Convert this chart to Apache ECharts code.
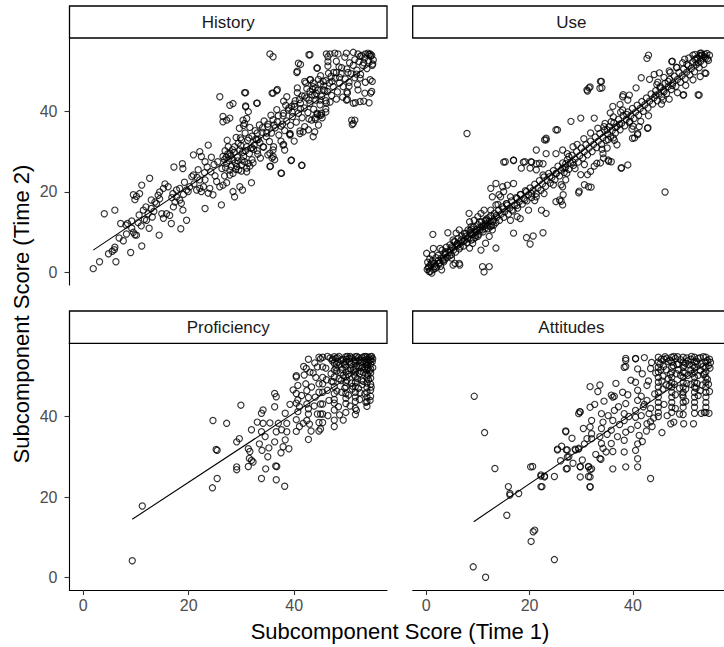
<!DOCTYPE html>
<html>
<head>
<meta charset="utf-8">
<script src="https://cdn.jsdelivr.net/npm/echarts@6/dist/echarts.min.js"></script>
<style>html,body{margin:0;padding:0;background:#fff;}#chart{width:724px;height:647px;}</style>
</head>
<body>
<div id="chart"></div>
<script>
// Panel names (facet strips)
const panelNames = ['History', 'Use', 'Proficiency', 'Attitudes'];
const xTitle = 'Subcomponent Score (Time 1)';
const yTitle = 'Subcomponent Score (Time 2)';
const tickValues = [0, 20, 40];

// History: [Time 1, Time 2]
const historyPts = [
[1.9,1.0],[3.1,2.7],[4.0,14.6],[4.8,4.7],[5.5,5.3],[5.9,5.7],[6.0,6.3],[6.0,15.5],[6.2,2.7],[7.1,12.2],[7.6,7.9],[8.1,11.8],[8.4,12.2],[9.0,5.0],[9.2,11.0],[9.5,10.0],[9.8,9.4],[10.1,9.3],[9.2,12.8],[9.5,19.3],[9.8,18.1],[10.1,18.9],[10.7,19.6],[11.1,6.6],[11.1,21.7],[12.6,23.4],[11.4,15.5],[11.9,16.3],[12.0,13.0],[12.3,14.6],[12.9,15.9],[13.6,17.5],[13.9,17.1],[14.5,18.3],[14.9,14.6],[15.2,13.5],[15.8,14.6],[16.4,14.2],[16.7,12.2],[14.4,9.3],[12.9,18.0],[14.2,19.2],[14.5,20.0],[15.2,20.9],[15.5,22.0],[16.1,21.3],[17.1,16.3],[17.4,17.5],[17.7,18.8],[18.3,18.0],[18.6,17.2],[18.9,15.5],[19.6,13.0],[18.5,10.9],[17.2,26.2],[18.8,27.0],[18.9,25.8],[17.7,20.5],[18.3,20.9],[19.6,20.5],[19.9,20.1],[20.2,21.3],[20.6,23.8],[20.9,24.2],[21.5,20.5],[22.1,20.9],[22.4,20.1],[22.8,21.3],[20.9,29.2],[22.1,30.0],[22.4,28.8],[23.1,27.5],[23.7,31.6],[22.1,23.0],[23.1,23.0],[23.7,19.7],[24.0,20.9],[24.6,19.3],[25.3,22.6],[25.9,21.3],[26.2,16.8],[26.5,21.7],[27.2,22.3],[25.9,43.6],[26.5,38.7],[26.5,37.4],[27.2,37.8],[27.8,38.3],[27.8,41.5],[28.4,41.9],[23.1,15.9],
[6.8,8.6],[8.2,9.6],[10.4,12.4],[11.0,11.6],[11.6,13.2],[13.1,13.8],[13.4,15.2],[12.5,11.0],[10.6,14.3],[16.8,18.6],[17.0,19.6],[19.2,22.4],[19.0,19.4],[21.0,22.0],[21.6,23.6],[23.0,24.8],[23.5,26.2],[24.2,25.0],[24.8,26.8],[25.0,24.0],[25.5,27.5],[24.3,28.6],[21.8,25.5],
[26.5,28.8],[27.2,27.1],[27.8,29.6],[28.4,28.0],[29.1,26.3],[29.7,30.4],[30.4,28.8],[31.0,31.2],[31.3,27.1],[27.8,25.4],[28.4,24.6],[29.4,32.1],[30.0,32.9],[30.7,34.6],[28.7,31.2],[27.5,31.2],[26.8,28.0],[28.1,26.3],[30.0,26.7],[31.0,25.0],[28.4,20.1],[28.7,18.8],[29.7,21.3],[30.8,44.6],[30.8,41.3],[31.3,39.9],
[27.0,26.0],[27.6,27.8],[28.0,29.0],[28.8,27.2],[29.2,28.6],[29.5,25.5],[30.2,29.8],[30.6,27.5],[31.5,29.5],[32.0,28.0],[26.9,30.2],[28.3,30.5],[29.0,33.5],[27.3,32.8],[26.3,25.8],[27.8,24.2],[29.9,31.5],[31.8,30.8],[32.4,31.6],[33.0,30.2],[31.2,32.8],[32.0,33.8],[33.2,33.0],[29.6,35.8],[30.4,36.5],[31.6,36.0],
[30.6,44.6],[30.8,41.1],[32.9,42.0],[30.3,37.8],[30.6,37.0],[31.0,38.2],[30.2,20.5],[31.9,22.3],[31.0,25.9],[32.9,32.9],[34.1,31.2],[35.4,29.6],[36.0,28.8],[36.3,28.0],[35.4,26.3],[37.6,24.6],[37.9,31.6],[38.2,30.4],[39.5,27.9],[41.4,26.6],[39.2,34.5],[39.2,34.1],[41.1,34.5],[41.7,34.9],[42.7,35.4],[43.6,33.7],[43.9,34.9],[43.3,37.8],[44.3,39.5],[44.9,39.1],[45.2,39.5],[44.6,36.6],[43.6,46.1],[43.9,44.0],[45.5,45.3],[44.9,42.8],[46.1,42.0],[36.0,44.5],[36.7,45.1],[35.4,54.2],[36.0,53.5],[43.0,54.0],[40.8,51.9],[40.5,49.6],[42.0,47.4],[43.0,47.8],[44.3,50.7],[46.4,52.3],
[46.1,54.2],[46.4,53.5],[46.8,54.2],[47.7,54.4],[48.3,54.2],[49.9,54.4],[51.2,54.6],[52.1,54.2],[52.8,53.8],[54.0,54.4],[54.4,54.2],[54.7,53.8],[55.0,52.7],[54.9,51.7],
[49.9,42.8],[51.2,42.0],[52.5,42.4],[53.4,44.5],[54.7,44.9],[54.4,47.8],[52.5,48.2],[52.1,45.3],[50.9,37.8],[51.2,37.0],[51.5,37.8],[51.0,36.7],
[37.5,24.7],[41.5,26.6],[39.4,27.8],[35.8,28.4],[35.5,26.4],[33.0,42.0],[35.8,44.5],[36.8,45.4],[38.0,42.5],[40.6,49.9],[41.2,51.6],[42.8,54.0],[44.4,50.7],[43.1,47.8],[42.2,47.0],[40.6,45.8],
[54.8,47.4],[54.5,44.5],[54.2,42.1],[53.2,42.5],[51.6,42.1],[50.1,42.9],[50.1,44.5],[50.4,46.2],[44.4,39.2],[45.3,38.4],[46.0,39.8],[44.0,38.0],
[32.3,30.6],[32.7,33.1],[33.1,29.4],[33.5,32.2],[33.9,34.8],[34.2,31.1],[34.7,33.7],[35.0,36.2],[35.3,32.5],[35.7,34.6],[36.1,31.2],[36.4,35.9],[36.8,37.4],[37.1,34.1],[37.5,36.3],[37.9,38.9],[38.2,35.2],[38.6,37.6],[38.9,40.3],[39.3,36.5],[39.7,38.7],[40.1,41.2],[40.4,37.3],[40.8,39.5],[41.2,42.0],[41.5,38.4],[41.9,40.8],[42.3,43.3],[42.6,39.7],[43.0,41.9],[43.4,44.1],[43.7,40.5],[44.1,42.8],[44.5,45.2],[44.9,41.6],[45.2,43.7],[45.6,46.3],[46.0,42.6],[46.3,44.9],[46.7,47.0],[47.1,43.9],[47.4,46.1],[47.8,48.2],[48.2,44.8],[48.6,47.0],[48.9,49.3],[49.3,46.1],[49.7,48.0],[50.0,50.5],[50.4,47.2],[50.8,49.3],[51.2,51.4],[51.5,48.3],[51.9,50.2],[52.3,52.3],[52.6,49.1],[53.0,51.4],[53.4,53.2],[53.8,50.6],[54.1,52.5],[54.5,53.6],[54.8,51.4],
[33.0,34.6],[34.0,35.9],[35.0,36.8],[36.0,37.9],[37.0,38.9],[38.0,39.5],[39.0,40.8],[39.5,41.2],[40.0,41.8],[41.0,42.9],[41.5,43.8],[42.0,43.8],[43.0,44.9],[43.5,45.4],[44.0,45.8],[45.0,46.8],[45.5,47.4],[46.0,47.6],[46.5,49.4],[47.0,48.6],[47.5,49.6],[48.0,49.6],[48.5,51.0],[49.0,50.8],[50.5,52.0],[51.5,52.8],[52.5,53.6],[53.5,54.2],
[44.6,47.9],[42.4,45.6],[40.6,44.6],[38.4,41.5],[36.7,40.4],[34.3,37.6],[37.5,32.6],[39.2,34.3],[41.1,35.1],[42.8,38.1],[45.1,39.0],[46.8,42.3],[49.2,43.5],[44.0,38.4],[42.0,36.2],[40.0,32.6],[38.0,31.8],[36.0,30.4],[46.0,40.6],[48.0,43.0],[50.0,44.8],[52.0,46.6],[53.5,47.2],[35.0,29.2],[33.6,28.4],[32.2,27.2],
[27.4,29.4],[28.6,29.8],[29.3,27.7],[30.1,27.9],[28.9,25.6],[27.1,28.6],[30.8,30.2],[29.8,33.4],[31.4,33.4],[32.6,35.2],[34.8,34.6],[36.2,36.6],[37.8,36.8],[39.6,39.8],[41.2,40.6],[42.8,42.8],[44.2,44.4],[45.8,45.2],[47.2,47.4],[48.6,48.4],[50.2,49.6],[51.8,49.2],[53.2,52.0],[54.2,54.0],[46.4,51.2],[45.0,48.8],[43.6,47.0],[48.0,52.4],[49.6,53.4],[38.6,43.6],[40.2,42.6],[35.6,39.0],[33.4,36.6],[32.0,31.0],[30.0,25.2],[31.6,26.4],[26.8,24.0]
];

// Use
const usePts = [
[7.9,34.5],[1.3,9.5],[4.2,9.9],[0.1,4.8],[1.4,6.0],[2.7,6.0],[5.2,8.1],[5.8,9.8],[6.4,10.6],[8.3,14.7],[5.2,1.9],[6.4,2.3],[11.2,0.2],[10.9,1.5],[12.2,1.5],[0.5,1.5],[0.8,0.3],[1.1,-0.1],[1.8,1.1],[2.4,2.3],[3.0,0.7],[3.3,3.6],[3.7,4.8],[4.6,5.6],[4.9,6.4],[5.6,7.7],[6.2,6.9],[6.8,8.1],[5.6,2.3],[6.5,1.9],[4.9,3.6],[7.4,9.8],[8.1,10.6],[8.4,12.6],[8.7,11.4],[9.3,13.0],[10.0,13.9],[10.6,14.7],[11.2,15.5],[11.5,13.0],[10.9,10.6],[10.0,9.0],[9.0,7.3],[8.4,6.1],[10.6,5.6],[11.5,7.3],[12.2,9.0],[12.8,10.6],[13.1,11.8],[13.5,6.1],[12.5,15.5],[13.5,16.8],[14.4,18.8],[15.0,27.4],[16.9,27.8],[18.8,27.4],[20.4,27.4],[21.3,27.0],[22.6,27.0],[22.9,32.9],[23.2,33.3],[25.1,35.4],[16.3,13.0],[16.9,9.8],[16.6,15.5],[17.6,13.9],[18.2,13.4],[17.6,16.7],[15.7,16.7],[19.4,8.7],[20.1,7.1],[20.7,9.1],[22.6,9.9],[12.5,20.9],[13.5,22.1],[14.8,21.3],[15.7,21.7],[16.9,22.1],[15.0,20.1],[14.1,19.3],[12.8,18.8],[16.3,18.8],[17.6,18.4],[18.2,19.3],[19.4,20.1],[20.4,19.6],[19.1,18.0],[19.8,15.5],[21.3,18.8],[22.3,15.5],[23.2,14.7],[25.1,17.6],[25.8,18.0],[26.4,16.8],[27.0,23.0],[26.4,21.3],[20.1,25.9],[21.3,25.5],[22.6,24.2],[23.9,23.8],[25.1,24.6],[26.4,25.9],[27.0,27.0],[27.3,29.5],[26.4,30.4],[25.1,29.5],[23.2,29.5],
[42.7,53.1],[43.0,53.9],[47.5,52.3],[50.0,52.9],[51.6,53.9],[52.2,53.1],[53.2,53.9],[53.8,53.5],[54.1,49.4],[52.8,44.0],[49.7,44.0],[46.2,20.0],[31.1,45.3],[31.7,46.0],[33.6,45.7],[33.9,47.4],[25.4,35.4],[23.2,32.9],[21.3,30.4],[15.3,27.5],[16.9,27.9],[18.4,25.9],[19.1,27.5],[20.3,27.5],[21.9,27.1],[29.5,19.8],[31.4,21.3],[31.9,21.2],[37.7,25.9],[39.0,26.7],[35.2,27.9],[35.8,27.5],[34.2,29.5],[33.0,27.1],[39.9,33.3],[40.9,34.5],[41.2,36.2],[42.8,35.8],[36.1,41.2],[38.0,40.3],[39.0,42.8],[38.0,43.6],[39.3,44.0],
[47.6,52.4],[33.7,47.4],[34.0,45.8],[31.5,45.8],[31.2,45.0],[38.1,44.1],[40.6,45.8],[41.6,48.3],[43.2,47.9],[44.1,49.1],[45.1,49.5],[47.0,50.0],[48.5,50.8],[50.4,51.6],[52.0,52.8],[52.9,53.7],[53.9,54.1],[53.9,49.5],[49.8,44.1],[52.6,44.1],[37.8,26.0],[35.6,39.6],[37.5,41.7],[38.8,39.2],[39.4,37.5],[40.0,36.3],[40.3,33.4],[40.9,34.2],[42.9,35.9],[32.5,38.3],[29.9,38.3],[28.0,37.5],[36.2,33.4],[36.9,31.7],[35.0,30.9],[34.3,28.4],[35.3,27.6],[33.7,27.2],[32.5,26.4],[31.8,25.1],[30.6,26.8],[29.9,24.3],[31.2,24.3],[30.6,21.8],[29.6,20.2],[26.1,17.7],[26.5,19.3],[26.1,21.8],
[0.2,0.8],[0.3,2.6],[0.6,0.3],[0.7,3.4],[0.9,1.9],[1.2,2.9],[1.4,0.8],[1.6,2.2],[1.9,3.7],[2.0,1.4],[2.3,4.3],[2.6,2.4],[2.9,3.6],[3.1,5.6],[3.4,2.7],[3.6,4.5],[3.9,6.3],[4.1,3.8],[4.4,5.1],[4.6,6.9],[4.9,4.4],[5.1,6.1],[5.4,7.7],[5.7,5.1],[5.9,6.7],[6.2,8.5],[6.4,5.9],[6.7,7.4],[6.9,9.1],[7.2,6.6],[7.4,8.1],[7.7,9.7],[7.9,7.4],[8.2,8.8],[8.5,10.5],[8.7,8.1],[9.0,9.5],[9.2,11.3],[9.5,8.7],[9.7,10.2],[10.0,11.9],[10.2,9.5],[10.5,11.1],[10.7,12.6],[11.0,10.1],[11.2,11.5],[11.5,12.1],[11.7,13.3],[12.0,10.9],[12.2,12.7],[12.5,14.1],[12.7,11.7],[13.0,13.1],[13.2,14.7],[13.5,12.4],[13.7,13.8],[14.0,15.5],[14.2,13.0],[14.5,14.5],[14.7,16.3],[15.0,13.7],[15.2,15.1],[15.5,17.1],
[0.4,1.2],[1.0,2.4],[1.7,1.6],[2.4,3.1],[3.2,3.0],[3.8,5.2],[4.5,4.2],[5.3,5.6],[6.0,7.2],[6.6,6.4],[7.3,7.8],[8.0,8.4],[8.6,9.8],[9.4,10.0],[9.9,10.8],[10.8,11.6],[11.4,11.0],[12.1,13.6],[12.9,12.6],[13.6,14.2],[10.3,12.6],[11.8,11.8],[9.1,8.3],[7.6,9.0],[13.9,16.9],[14.9,15.8],
[15.6,17.1],[15.9,14.5],[16.2,16.0],[16.5,17.8],[16.8,15.3],[17.1,16.8],[17.4,18.6],[17.7,16.0],[18.0,17.6],[18.3,19.4],[18.6,17.0],[18.9,18.4],[19.2,20.3],[19.5,17.8],[19.8,19.3],[20.1,21.0],[20.4,18.6],[20.7,20.4],[21.0,21.9],[21.3,19.6],[21.6,21.0],[21.9,22.8],[22.2,20.4],[22.5,22.0],[22.8,23.7],[23.1,21.4],[23.4,22.9],[23.7,24.6],[24.0,22.2],[24.3,23.6],[24.6,25.3],[24.9,23.0],[25.2,24.6],[25.5,26.4],[25.8,24.0],[26.1,25.4],[26.4,27.2],[26.7,24.8],[27.0,26.2],[27.3,28.0],[27.6,25.6],[27.9,27.2],[28.2,29.1],[28.5,26.6],[28.8,28.2],[29.1,30.0],[29.4,27.4],[29.7,29.0],[30.0,30.9],[30.3,28.4],[30.6,30.0],[30.9,31.7],[31.2,29.2],[31.5,30.9],[31.8,32.6],[32.1,30.0],[32.4,31.8],[32.7,33.6],[33.0,31.0],[33.3,32.6],[33.6,34.5],[33.9,31.8],[34.2,33.5],[34.5,35.3],[34.8,32.8],[35.1,34.4],[35.4,36.2],[35.7,33.6],[36.0,35.3],[36.3,37.1],[36.6,34.6],[36.9,36.2],[37.2,38.0],[37.5,35.4],[37.8,37.0],[38.1,38.9],[38.4,36.4],[38.7,38.0],[39.0,39.8],[39.3,37.2],[39.6,38.9],[39.9,40.7],[40.2,38.2],[40.5,39.8],[40.8,41.5],[41.1,39.0],[41.4,40.7],[41.7,42.4],[42.0,40.0],[42.3,41.6],[42.6,43.3],[42.9,40.8],[43.2,42.5],[43.5,44.3],[43.8,41.8],[44.1,43.4],[44.4,45.1],[44.7,42.6],[45.0,44.3],[45.3,46.1],[45.6,43.6],[45.9,45.2],[46.2,46.9],[46.5,44.4],[46.8,46.1],[47.1,47.9],[47.4,45.4],[47.7,47.0],[48.0,48.7],[48.3,46.2],[48.6,47.9],[48.9,49.6],[49.2,47.2],[49.5,48.8],[49.8,50.5],[50.1,48.0],[50.4,49.7],[50.7,51.3],[51.0,49.0],[51.3,50.6],[51.6,52.3],[51.9,49.8],[52.2,51.5],[52.5,53.1],[52.8,50.8],[53.1,52.4],[53.4,53.9],[53.7,51.6],[54.0,53.2],[54.3,54.3],[54.6,52.6],[54.8,53.9],
[28.4,31.2],[29.2,31.8],[30.5,33.2],[31.8,34.6],[33.2,35.8],[34.6,37.0],[36.2,38.6],[37.6,39.8],[44.8,47.2],[46.0,48.4],[47.2,49.6],[48.4,50.9],[49.6,52.0],[50.8,53.2],[52.0,54.1],[53.0,54.4],[45.5,41.8],[47.0,43.0],[48.6,44.6],[50.2,46.4],[51.6,47.8],[53.0,48.6],[43.0,38.9],[41.5,37.5],[39.8,35.6],[36.4,32.8],[34.0,30.6],[28.8,25.8],[27.2,24.6],[24.6,21.8],[22.8,19.6],[21.0,17.9],
[34.4,36.2],[35.0,35.4],[35.8,37.4],[36.6,36.0],[37.4,36.8],[35.2,33.0],[44.4,44.0],[45.2,45.8],[46.0,44.8],[46.8,47.4],[47.6,46.4],[45.8,42.8],[44.6,46.6],[53.2,54.4],[54.4,53.0],[52.6,52.0],[27.6,28.8],[28.4,27.4],[26.8,26.0],[8.8,10.8],[9.6,9.2],[10.4,10.6],[11.6,12.8],[12.4,11.4],[2.8,1.6],[3.6,3.2],[1.2,4.4]
];

// Proficiency
const profPts = [
[9.3,4.2],[11.2,17.8],[24.6,39.0],[27.2,38.3],[29.9,42.8],[25.2,31.8],[25.4,31.6],[25.4,24.6],[24.5,22.3],[29.1,33.7],[29.6,34.5],[29.1,27.5],[29.1,26.8],[31.3,32.0],[31.5,29.6],[31.9,29.1],[32.2,28.7],[33.8,24.6],[36.5,27.7],[36.6,24.3],[38.2,22.7],[36.7,27.6],[31.6,31.3],[31.9,36.7],[31.3,27.6],[33.8,36.2],[34.1,38.3],[33.8,40.8],[34.1,41.6],[36.3,42.4],[36.6,44.9],[36.3,45.7],[36.3,33.7],[36.6,36.2],[38.3,40.8],[38.6,38.3],[38.6,36.2],[38.3,34.2],[37.9,32.5],[37.0,38.3],[37.6,36.7],
[40.4,50.1],[40.4,49.8],[40.7,47.7],[40.4,45.7],[40.7,44.1],[40.4,43.3],[41.0,42.4],[40.7,41.2],[40.4,39.2],[41.0,37.5],[40.4,36.3],[42.2,48.1],[42.4,46.4],[42.7,44.7],[42.4,43.1],[42.7,41.9],[42.7,40.6],[42.4,39.0],[42.9,38.1],[43.2,36.4],[42.7,34.3],[44.4,40.6],[45.0,40.6],[44.7,36.4],[45.0,36.9],[44.7,38.5],[45.0,43.1],[44.7,46.0],[44.7,48.1],[44.1,49.7],[44.4,52.3],[44.7,54.7],[45.0,54.3],[42.7,54.2],
[33.4,33.2],[33.9,31.6],[34.5,35.0],[35.2,32.2],[35.4,38.4],[33.0,38.6],[35.0,30.0],[34.6,27.0],[37.5,31.0],[39.0,32.0],[41.7,38.3],[49.3,39.1],
[45.4,54.7],[45.4,52.3],[45.4,49.7],[45.4,48.1],[45.4,46.0],[45.4,43.1],[45.4,40.6],[45.4,38.5],
[47.6,54.8],[47.6,53.2],[47.6,51.5],[47.6,49.8],[47.6,47.4],[47.6,45.7],[47.6,44.2],[47.6,43.3],[47.6,41.6],[47.6,39.1],[47.6,37.5],
[49.8,54.8],[49.8,53.6],[49.8,52.3],[49.8,51.0],[49.8,49.8],[49.8,48.5],[49.8,47.4],[49.8,45.7],[49.8,44.5],[49.8,43.2],[49.8,41.0],
[51.6,54.8],[51.6,54.0],[51.6,53.2],[51.6,52.0],[51.6,51.0],[51.6,49.8],[51.6,48.5],[51.6,47.4],[51.6,46.0],[51.6,44.8],[51.6,43.7],[51.6,42.0],[51.6,40.5],
[53.8,54.8],[53.8,54.2],[53.8,53.5],[53.8,52.5],[53.8,51.5],[53.8,50.5],[53.8,49.5],[53.8,48.3],[53.8,47.2],[53.8,46.0],[53.8,44.8],[53.8,43.7],[53.8,42.5],
[54.5,54.8],[54.5,54.0],[54.5,53.0],[54.5,51.8],[54.5,50.8],[54.5,49.5],[54.5,48.0],[54.5,46.5],[54.5,45.0],
[46.8,54.5],[47.2,53.8],[48.2,54.6],[48.6,52.8],[49.2,54.2],[50.4,54.4],[50.8,53.0],[51.2,51.6],[52.2,54.6],[52.6,53.4],[53.0,52.2],[53.2,54.8],[54.2,54.6],[54.8,53.6],[52.4,50.6],[50.2,50.4],[48.8,50.8],[47.0,50.6],[52.8,49.0],[54.0,52.0],[51.0,46.8],[49.0,46.0],[53.4,45.6],[46.6,44.0],[48.4,42.4],[50.6,42.6],[52.4,44.2],[54.4,44.0],[43.6,50.8],[41.8,52.4],[43.0,51.0],[46.0,52.0],[44.0,44.8],[41.4,45.2],[46.4,40.2],[48.6,40.4],[39.8,46.6],[39.2,43.0],[43.8,42.6],[53.6,43.5],[51.8,41.5],
[47.9,54.4],[48.9,53.9],[50.1,54.9],[50.9,54.5],[51.9,54.9],[52.9,54.6],[53.5,54.9],[54.7,54.9],[53.3,53.9],[52.1,53.7],[50.5,53.7],[49.5,52.9],[48.3,53.5],[54.1,53.3],[53.1,50.9],[52.3,52.5],[50.7,51.9],[49.1,51.7],[48.1,51.3],[54.9,52.1],[52.9,47.9],[50.9,48.3],[48.9,48.9],[47.1,48.7],[46.1,49.1],[54.1,49.1],[52.5,45.9],[50.3,45.3],[48.1,46.3],[46.3,46.5],[43.3,47.3],[41.9,50.3],[43.9,53.3],[46.3,54.9],[42.3,51.9],
[47.3,54.2],[48.0,53.0],[48.5,54.9],[49.4,53.3],[49.9,54.2],[50.6,54.9],[51.3,53.6],[51.8,52.6],[52.4,54.0],[53.0,53.6],[53.6,52.9],[54.2,53.9],[54.9,54.3],[54.3,51.3],[53.4,51.9],[52.6,51.2],[51.4,50.3],[50.3,51.4],[49.3,50.2],[48.5,49.4],[47.9,52.1],[50.0,49.0],[52.0,49.4],[54.0,50.2],[53.1,48.7],[51.1,47.5],[49.6,47.0],[54.6,47.3],[52.2,47.0],[47.4,48.6]
];

// Attitudes
const attPts = [
[9.1,2.7],[11.5,0.1],[9.3,45.0],[11.3,36.0],[13.3,27.1],[15.6,15.5],[15.9,22.6],[16.2,20.9],[16.2,20.5],[17.9,20.9],[20.2,27.5],[20.6,27.6],[20.3,9.0],[20.7,11.4],[21.0,11.8],[22.2,25.2],[22.9,25.0],[22.4,22.6],[22.9,25.2],[24.8,4.5],[25.4,31.9],[27.0,36.4],[27.1,31.7],[27.3,29.9],[27.1,27.0],[28.8,31.9],[29.5,31.9],[29.8,27.5],[29.8,25.0],[31.4,27.5],[31.7,25.0],[31.7,22.5],[32.0,27.0],[29.5,40.7],[29.8,41.1],[31.7,42.3],[32.0,39.0],[31.7,37.4],[32.0,35.7],[32.0,34.5],[31.1,34.5],[33.9,40.7],[34.2,38.6],[33.9,37.0],[33.6,35.0],[33.9,33.3],[33.6,29.6],[33.8,29.4],[34.2,32.1],[36.1,31.3],[35.8,33.3],[36.1,27.0],[35.8,36.6],[36.1,39.0],[36.4,41.5],[36.1,44.8],[38.0,46.0],[38.3,52.2],[38.6,53.9],[40.5,54.3],[40.9,51.8],[40.5,48.5],[40.9,46.5],[40.9,44.0],[40.5,41.5],[40.5,39.8],[40.9,37.8],[41.2,35.3],[40.9,33.2],[40.5,31.6],[40.9,29.5],[40.9,27.5],[43.4,24.6],[42.7,44.0],[43.1,40.7],[42.7,38.2],[42.7,47.7],[38.6,27.5],[38.3,31.2],[38.3,34.1],[38.6,36.1],[38.3,39.0],[38.3,40.7],[38.6,43.2],
[22.2,25.5],[22.2,22.6],[24.8,25.1],[27.3,27.1],[27.0,36.2],[25.4,31.7],[27.3,31.7],[28.9,31.7],[29.5,32.1],[27.6,30.0],[29.8,27.6],[31.4,27.6],[31.7,26.8],[31.4,25.1],[31.7,22.6],[29.7,41.2],[31.7,47.4],[33.6,47.8],[36.7,48.2],[38.6,54.4],[38.6,52.4],[40.5,54.4],[43.4,51.9],[35.8,45.3],[36.4,45.0],[43.4,38.7],[43.7,37.5],[45.6,36.0],[47.3,38.2],[47.9,38.6],[49.8,38.2],[51.7,38.2],[53.8,41.0],[54.7,40.8],
[44.9,54.7],[44.9,53.5],[44.9,52.2],[44.9,51.0],[44.9,49.7],[44.9,48.5],[44.9,47.3],[44.9,46.0],[44.9,44.8],[44.9,43.5],[44.9,42.3],[44.9,41.0],[44.9,40.0],
[47.5,54.7],[47.5,53.5],[47.5,52.2],[47.5,51.0],[47.5,49.7],[47.5,48.5],[47.5,47.3],[47.5,46.0],[47.5,44.8],[47.5,43.5],[47.5,42.3],[47.5,41.0],
[49.7,54.7],[49.7,53.5],[49.7,52.2],[49.7,51.0],[49.7,49.7],[49.7,48.5],[49.7,47.3],[49.7,46.0],[49.7,44.8],[49.7,43.5],[49.7,42.3],[49.7,40.5],
[51.9,54.7],[51.9,53.5],[51.9,52.2],[51.9,51.0],[51.9,49.7],[51.9,48.5],[51.9,47.3],[51.9,46.0],[51.9,44.8],[51.9,43.5],[51.9,42.3],[51.9,40.8],
[54.1,54.7],[54.1,53.5],[54.1,52.2],[54.1,51.0],[54.1,49.7],[54.1,48.5],[54.1,47.3],[54.1,46.0],[54.1,44.8],[54.1,43.5],[54.1,42.3],[54.1,41.0],
[45.5,54.2],[46.2,54.8],[46.8,53.6],[48.2,54.4],[48.8,53.0],[50.4,54.5],[50.9,52.8],[52.6,54.4],[53.2,53.0],[54.8,54.2],[54.6,52.6],[53.0,51.4],[50.6,50.2],[48.4,50.6],[46.4,51.6],[45.6,48.8],[47.0,47.6],[49.0,47.0],[51.2,48.0],[53.4,47.8],[54.8,46.2],[52.6,45.2],[50.2,43.8],[48.2,42.0],[46.0,43.0],[44.2,45.6],[44.4,50.8],[43.6,53.4],[42.2,54.6],[43.0,48.8],[46.6,40.2],[49.0,40.6],[53.2,40.8],[42.0,42.4],[41.6,45.0],[39.6,49.0],[39.0,45.4],[41.8,50.6],
[41.6,40.2],[42.2,43.0],[43.4,42.0],[44.0,39.6],[42.6,36.4],[41.8,33.8],[39.6,36.8],[39.2,40.0],[37.4,38.0],[37.0,35.0],[37.2,42.4],[35.2,40.2],[35.0,35.6],[34.8,31.2],[32.8,30.6],[30.6,33.2],[30.2,29.2],[28.4,28.4],[26.2,32.6],[26.0,29.0],[28.2,34.6],[30.4,37.0],[32.6,43.0],[34.4,43.8],[33.2,46.2],
[46.0,54.2],[48.6,54.8],[51.2,54.2],[53.6,54.8],[55.0,53.4],[52.4,53.0],[50.2,53.2],[47.8,52.6],[45.4,51.6],[53.6,50.4],[51.4,50.6],[49.2,50.2],[46.8,49.4],[54.6,48.0],[52.4,48.2],[50.2,46.8],[48.2,45.4],[45.8,46.8],
[45.2,53.0],[45.9,52.4],[46.5,54.4],[47.2,53.9],[47.9,54.9],[48.5,52.9],[49.2,54.1],[49.9,52.7],[50.6,53.8],[51.3,54.9],[51.6,52.6],[52.3,53.7],[53.0,54.6],[53.6,52.4],[54.4,53.9],[54.9,52.0],[53.8,50.6],[52.6,50.2],[51.2,51.6],[50.0,50.8],[48.8,51.6],[47.2,50.4],[45.8,50.0],[46.4,47.8],[48.0,48.0],[50.4,48.2],[52.2,47.0],[54.4,49.2],[53.0,46.4],[49.6,45.4]
];

// Regression lines (start and end points)
const historyLine = [[1.9,5.6],[54.8,51.8]];
const useLine = [[0.0,0.7],[54.6,53.9]];
const profLine = [[9.3,14.5],[54.8,53.6]];
const attLine = [[9.2,13.9],[54.8,53.6]];

const panelPts = [historyPts, usePts, profPts, attPts];
const panelLines = [historyLine, useLine, profLine, attLine];

const FONT = '"Liberation Sans", Arial, Helvetica, sans-serif';
const gridBoxes = [
  {left: 69.5, top: 38, width: 317.5, height: 247},
  {left: 412.7, top: 38, width: 317.5, height: 247},
  {left: 69.5, top: 343.3, width: 317.5, height: 246.7},
  {left: 412.7, top: 343.3, width: 317.5, height: 246.7}
];

const chart = echarts.init(document.getElementById('chart'), null, {renderer: 'svg'});

const xAxes = gridBoxes.map((g, i) => {
  const showAxis = i >= 2;
  return {
    type: 'value', gridIndex: i, min: -2.6, max: 57.6, show: showAxis,
    splitLine: {show: false},
    axisLine: {show: showAxis, onZero: false, lineStyle: {color: '#000', width: 1.1}},
    axisTick: {show: showAxis, customValues: tickValues, length: 5, lineStyle: {color: '#333', width: 1.1}},
    axisLabel: {show: showAxis, customValues: tickValues, margin: 7, color: '#4d4d4d', fontSize: 16, fontFamily: FONT}
  };
});
const yAxes = gridBoxes.map((g, i) => {
  const showAxis = (i % 2) === 0;
  return {
    type: 'value', gridIndex: i, min: -3.05, max: 58.15, show: showAxis,
    splitLine: {show: false},
    axisLine: {show: showAxis, onZero: false, lineStyle: {color: '#000', width: 1.1}},
    axisTick: {show: showAxis, customValues: tickValues, length: 5, lineStyle: {color: '#333', width: 1.1}},
    axisLabel: {show: showAxis, customValues: tickValues, margin: 12, color: '#4d4d4d', fontSize: 16, fontFamily: FONT}
  };
});

const series = [];
panelPts.forEach((pts, i) => {
  series.push({
    type: 'scatter', xAxisIndex: i, yAxisIndex: i, data: pts,
    symbol: 'circle', symbolSize: 6.2, silent: true, z: 2,
    itemStyle: {color: 'rgba(0,0,0,0)', borderColor: '#000', borderWidth: 1.15},
    emphasis: {disabled: true}
  });
  series.push({
    type: 'line', xAxisIndex: i, yAxisIndex: i, data: panelLines[i],
    symbol: 'none', silent: true, z: 3,
    lineStyle: {color: '#000', width: 1.1},
    emphasis: {disabled: true}
  });
});

const graphics = [];
gridBoxes.forEach((g, i) => {
  const stripTop = i < 2 ? 6 : 311;
  graphics.push({
    type: 'rect', z: 10,
    shape: {x: g.left, y: stripTop, width: g.width, height: g.top - stripTop},
    style: {fill: '#fff', stroke: '#000', lineWidth: 1.3}
  });
  graphics.push({
    type: 'text', z: 11,
    x: g.left + g.width / 2,
    y: stripTop + (g.top - stripTop) / 2 + 0.5,
    style: {text: panelNames[i], fill: '#1a1a1a', font: '17px ' + FONT, align: 'center', verticalAlign: 'middle'}
  });
});
graphics.push({
  type: 'text', z: 11, x: 400, y: 631,
  style: {text: xTitle, fill: '#000', font: '22px ' + FONT, align: 'center', verticalAlign: 'middle'}
});
graphics.push({
  type: 'text', z: 11, x: 21, y: 314, rotation: Math.PI / 2,
  style: {text: yTitle, fill: '#000', font: '22px ' + FONT, align: 'center', verticalAlign: 'middle'}
});

chart.setOption({
  animation: false,
  backgroundColor: '#fff',
  grid: gridBoxes,
  xAxis: xAxes,
  yAxis: yAxes,
  series: series,
  graphic: graphics
});
</script>
</body>
</html>
